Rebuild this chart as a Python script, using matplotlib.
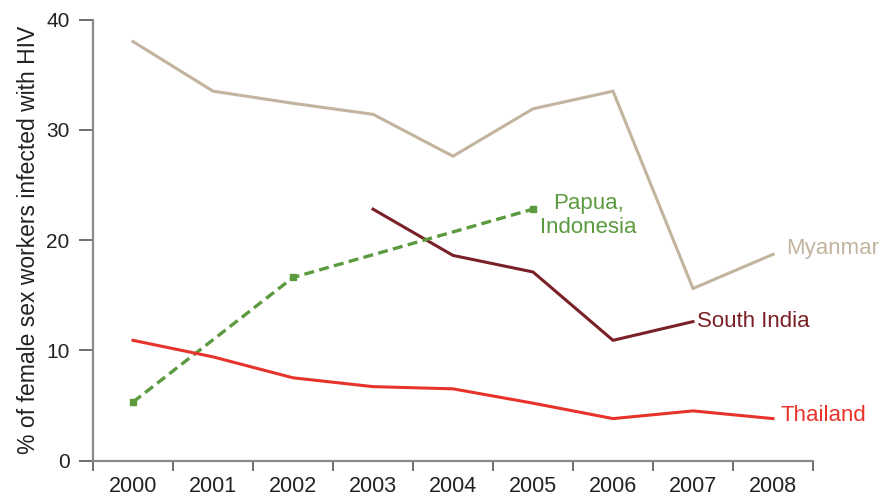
import matplotlib
matplotlib.use("Agg")
import matplotlib.pyplot as plt
from matplotlib.ticker import FixedLocator, NullFormatter, FixedFormatter

years = ["2000", "2001", "2002", "2003", "2004", "2005", "2006", "2007", "2008"]
myanmar = [38.0, 33.5, 32.4, 31.4, 27.6, 31.9, 33.5, 15.6, 18.7]
south_india_years = ["2003", "2004", "2005", "2006", "2007"]
south_india = [22.8, 18.6, 17.1, 10.9, 12.6]
papua_years = ["2000", "2002", "2005"]
papua = [5.3, 16.6, 22.8]
thailand = [10.9, 9.4, 7.5, 6.7, 6.5, 5.2, 3.8, 4.5, 3.8]
y_ticks = [0, 10, 20, 30, 40]

c_myanmar = "#c2b49e"
c_india = "#7a2027"
c_papua = "#5b9a3f"
c_thai = "#e8332b"

plt.rcParams['font.family'] = ['Liberation Sans', 'DejaVu Sans']

fig = plt.figure(figsize=(8.8, 4.97), dpi=100)
ax = fig.add_axes([93/880, 1 - 460.5/497, 720/880, 441/497])

idx = {y: i for i, y in enumerate(years)}
xs = list(range(len(years)))

ax.plot(xs, myanmar, color=c_myanmar, lw=2.2, solid_joinstyle='miter')
ax.plot([idx[y] for y in south_india_years], south_india, color=c_india, lw=2.2)
ax.plot([idx[y] for y in papua_years], papua, color=c_papua, lw=2.4,
        ls=(0, (3, 1.6)), marker='s', ms=5, mfc=c_papua, mec=c_papua)
ax.plot(xs, thailand, color=c_thai, lw=2.2)

fs = 16
ax.text(5.69, 22.2, "Papua,\nIndonesia", color=c_papua, fontsize=fs,
        ha='center', va='center', multialignment='center', linespacing=1.2)
ax.text(8.16, 19.27, "Myanmar", color=c_myanmar, fontsize=fs, ha='left', va='center')
ax.text(7.05, 12.65, "South India", color=c_india, fontsize=fs, ha='left', va='center')
ax.text(8.09, 4.04, "Thailand", color=c_thai, fontsize=fs, ha='left', va='center')

ax.set_xlim(-0.5, len(years) - 0.5)
ax.set_ylim(0, 40)

ax.xaxis.set_major_locator(FixedLocator([i - 0.5 for i in range(len(years) + 1)]))
ax.xaxis.set_major_formatter(NullFormatter())
ax.xaxis.set_minor_locator(FixedLocator(xs))
ax.xaxis.set_minor_formatter(FixedFormatter(years))
ax.tick_params(axis='x', which='major', direction='out', length=7, width=1.2, color='#555555')
ax.tick_params(axis='x', which='minor', length=0, pad=11, labelsize=15.5, labelcolor='#222222')

ax.set_yticks(y_ticks)
ax.tick_params(axis='y', direction='out', length=10, width=1.2, color='#555555',
               pad=7, labelsize=15, labelcolor='#222222')

for s in ['top', 'right']:
    ax.spines[s].set_visible(False)
for s in ['left', 'bottom']:
    ax.spines[s].set_color('#8a8a8a')
    ax.spines[s].set_linewidth(1.6)

ax.set_ylabel("% of female sex workers infected with HIV", fontsize=16.5, color='#222222', labelpad=4)

fig.savefig("out.png", dpi=100)
